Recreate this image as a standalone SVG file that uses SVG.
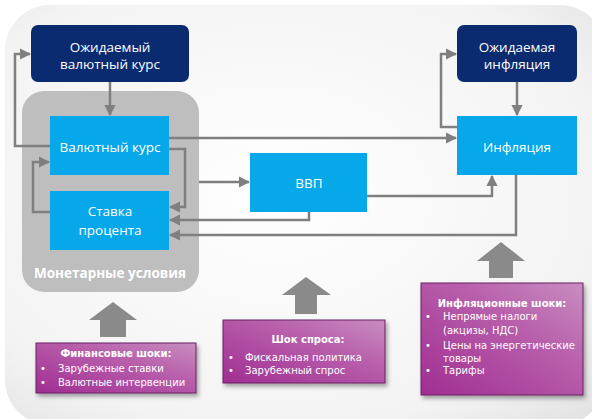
<svg xmlns="http://www.w3.org/2000/svg" width="592" height="419" viewBox="0 0 592 419">
<defs>
<radialGradient id="bg" cx="0.45" cy="0.45" r="0.75">
<stop offset="0" stop-color="#ffffff"/>
<stop offset="0.75" stop-color="#f3f3f3"/>
<stop offset="1" stop-color="#e2e2e2"/>
</radialGradient>
<linearGradient id="pur" x1="0" y1="1" x2="1" y2="0">
<stop offset="0" stop-color="#a02e92"/>
<stop offset="0.6" stop-color="#b85eab"/>
<stop offset="1" stop-color="#c88ec0"/>
</linearGradient>
<filter id="sh" x="-10%" y="-10%" width="125%" height="130%">
<feDropShadow dx="2" dy="3" stdDeviation="2" flood-color="#000" flood-opacity="0.35"/>
</filter>
<marker id="ah" viewBox="0 0 10 10" refX="9" refY="5" markerWidth="4.5" markerHeight="4.5" orient="auto" markerUnits="strokeWidth">
<path d="M0,0 L10,5 L0,10 z" fill="#7f7f7f"/>
</marker>
<style>
.dark{fill:#0b2b70}
.blue{fill:#07a8ea}
.wt{fill:#ffffff;font-family:"Open Sans","Noto Sans",sans-serif;font-size:13.5px;text-anchor:middle}
.con{fill:none;stroke:#7f7f7f;stroke-width:2.5;marker-end:url(#ah)}
.big{fill:#8a8a8a}
.pbox{fill:url(#pur);stroke:#6b1f62;stroke-width:1;filter:url(#sh)}
.pt{fill:#ffffff;font-family:"DejaVu Sans","Liberation Sans",sans-serif;font-size:10px}
.ptb{font-weight:bold;text-anchor:middle}
</style>
</defs>
<rect x="0" y="0" width="592" height="419" fill="#ffffff"/>
<rect x="5" y="5" width="600" height="420" rx="45" fill="url(#bg)"/>

<g id="monetary">
<rect x="22" y="91" width="177" height="201" rx="22" fill="#bebebe"/>
<text x="110" y="278" fill="#ffffff" font-family="'Open Sans','Noto Sans',sans-serif" font-size="13.5" font-weight="bold" text-anchor="middle">Монетарные условия</text>
</g>

<g id="exp-fx">
<rect class="dark" x="31" y="25" width="158" height="57" rx="7"/>
<text class="wt" x="110" y="52">Ожидаемый</text>
<text class="wt" x="110" y="69">валютный курс</text>
</g>
<g id="exp-inf">
<rect class="dark" x="457" y="25" width="120" height="57" rx="7"/>
<text class="wt" x="517" y="52">Ожидаемая</text>
<text class="wt" x="517" y="69">инфляция</text>
</g>
<g id="fx">
<rect class="blue" x="50" y="116" width="119" height="59"/>
<text class="wt" x="110" y="152">Валютный курс</text>
</g>
<g id="rate">
<rect class="blue" x="50" y="191" width="119" height="59"/>
<text class="wt" x="110" y="216">Ставка</text>
<text class="wt" x="110" y="235">процента</text>
</g>
<g id="gdp">
<rect class="blue" x="250" y="153" width="117" height="59"/>
<text class="wt" x="309" y="188">ВВП</text>
</g>
<g id="inflation">
<rect class="blue" x="457" y="116" width="120" height="59"/>
<text class="wt" x="517" y="152">Инфляция</text>
</g>

<g id="connectors">
<path class="con" d="M110,82 V115"/>
<path class="con" d="M50,146 H15 V54 H30"/>
<path class="con" d="M169,138 H456"/>
<path class="con" d="M169,149 H185 V207 H170"/>
<path class="con" d="M50,212 H33 V162 H49"/>
<path class="con" d="M199,182 H249"/>
<path class="con" d="M309,212 V220 H170"/>
<path class="con" d="M516,175 V235 H170"/>
<path class="con" d="M367,196 H492 V176"/>
<path class="con" d="M457,127 H441 V54 H456"/>
<path class="con" d="M517,82 V115"/>
</g>

<g id="shock-arrows">
<path class="big" d="M113,302 L137,320 H126 V337 H100 V320 H89 z"/>
<path class="big" d="M306,277 L331,295 H317 V314 H295 V295 H282 z"/>
<path class="big" d="M501,242 L525,261 H513 V278 H489 V261 H477 z"/>
</g>

<g id="fin-shocks">
<rect class="pbox" x="36" y="343" width="160" height="50"/>
<text class="pt ptb" x="116" y="357">Финансовые шоки:</text>
<text class="pt" x="40" y="372">•</text>
<text class="pt" x="58" y="372">Зарубежные ставки</text>
<text class="pt" x="40" y="386">•</text>
<text class="pt" x="58" y="386">Валютные интервенции</text>
</g>
<g id="demand-shock">
<rect class="pbox" x="223" y="320" width="162" height="63"/>
<text class="pt ptb" x="308" y="343">Шок спроса:</text>
<text class="pt" x="228" y="361">•</text>
<text class="pt" x="245" y="361">Фискальная политика</text>
<text class="pt" x="228" y="374">•</text>
<text class="pt" x="245" y="374">Зарубежный спрос</text>
</g>
<g id="inf-shocks">
<rect class="pbox" x="421" y="283" width="162" height="112"/>
<text class="pt ptb" x="502" y="307">Инфляционные шоки:</text>
<text class="pt" x="425" y="320">•</text>
<text class="pt" x="443" y="320">Непрямые налоги</text>
<text class="pt" x="443" y="334">(акцизы, НДС)</text>
<text class="pt" x="425" y="349">•</text>
<text class="pt" x="443" y="349">Цены на энергетические</text>
<text class="pt" x="443" y="362">товары</text>
<text class="pt" x="425" y="374">•</text>
<text class="pt" x="443" y="374">Тарифы</text>
</g>
</svg>
